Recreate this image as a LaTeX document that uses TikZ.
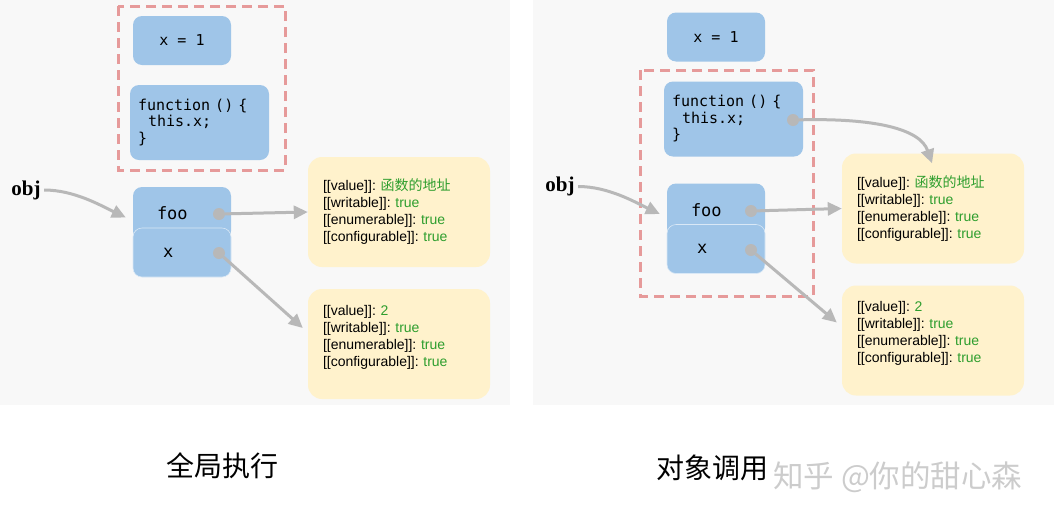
\documentclass[tikz,border=0pt]{standalone}
\usepackage{fontspec}
\setmainfont{Liberation Sans}
\setmonofont{DejaVu Sans Mono}
\newfontfamily\cjk{Noto Sans CJK SC}
\newfontfamily\objfont{Liberation Serif}
\usetikzlibrary{arrows.meta,positioning}

\definecolor{cellblue}{HTML}{9FC5E8}
\definecolor{attryellow}{HTML}{FFF2CC}
\definecolor{scopered}{HTML}{E69A9A}
\definecolor{linkgray}{HTML}{B8B8B8}
\definecolor{valgreen}{HTML}{2E9E2E}
\definecolor{panelgray}{HTML}{F8F8F8}

\newcommand{\val}[1]{\textcolor{valgreen}{#1}}
\frenchspacing

\begin{document}
\begin{tikzpicture}[x=1pt,y=-1pt,
  cell/.style={fill=cellblue,rounded corners=9pt,inner sep=0pt,font=\ttfamily\fontsize{15}{16.5}\selectfont},
  member/.style={cell,minimum width=98pt,align=left,font=\ttfamily\fontsize{17}{20}\selectfont},
  attr/.style={fill=attryellow,rounded corners=14pt,minimum width=182pt,minimum height=110pt,text width=152pt,inner xsep=15pt,align=left,font=\fontsize{14}{17}\selectfont},
  scopebox/.style={draw=scopered,line width=3pt,dash pattern=on 10pt off 6pt},
  link/.style={draw=linkgray,line width=3pt,-{Triangle[length=14pt,width=13pt]}},
  dot/.style={circle,fill=linkgray,inner sep=0pt,minimum size=12pt},
  objlabel/.style={font=\objfont\bfseries\fontsize{21}{23}\selectfont},
  caption/.style={font=\cjk\fontsize{28}{30}\selectfont}]
\useasboundingbox (0,0) rectangle (1054,520);
\fill[panelgray] (0,0) rectangle (510,405);
\fill[panelgray] (533,0) rectangle (1054,405);

% global call
\draw[scopebox] (118,6) rectangle (285,170);
\node[cell,minimum width=98pt,minimum height=49pt] (xone) at (182,40.5) {x = 1};
\node[cell,minimum width=137pt,minimum height=75pt,text width=123pt,inner xsep=8pt,align=left] (fn) at (199.5,122.5) {function () \{\\\ \ this.x;\\\}};
\node[member,minimum height=53pt,text width=50pt,inner xsep=24pt] (foo) at (182,213.5) {foo};
\node[member,minimum height=49pt,text width=38pt,inner xsep=30pt,draw=white!60!cellblue,line width=0.6pt] (xkey) at (182,252.5) {x};
\node[objlabel] (obj) at (26,190) {obj};
\node[attr] (attr1) at (399,212) {{[[}value]]: \val{\cjk 函数的地址}\\{[[}writable]]: \val{true}\\{[[}enumerable]]: \val{true}\\{[[}configurable]]: \val{true}};
\node[attr] (attr2) at (399,344) {{[[}value]]: \val{2}\\{[[}writable]]: \val{true}\\{[[}enumerable]]: \val{true}\\{[[}configurable]]: \val{true}\\\mbox{}};
\node[dot] (foodot) at (219,214) {};
\node[dot] (xdot) at (219,253) {};
\draw[link] (obj.east) .. controls +(30,0) and +(-25,-12) .. ([shift={(-7,4)}]foo.west);
\draw[link] (foodot) -- (attr1.west);
\draw[link] (xdot) -- ([shift={(-5,-16)}]attr2.west);
\node[caption] (cap1) at (222,466) {全局执行};

% object call
\draw[scopebox] (640,70) rectangle (813,296);
\begin{scope}[shift={(534,-3.5)}]
\node[cell,minimum width=98pt,minimum height=49pt] (rxone) at (182,40.5) {x = 1};
\node[cell,minimum width=137pt,minimum height=75pt,text width=123pt,inner xsep=8pt,align=left] (rfn) at (199.5,122.5) {function () \{\\\ \ this.x;\\\}};
\node[member,minimum height=53pt,text width=50pt,inner xsep=24pt] (rfoo) at (182,213.5) {foo};
\node[member,minimum height=49pt,text width=38pt,inner xsep=30pt,draw=white!60!cellblue,line width=0.6pt] (rxkey) at (182,252.5) {x};
\node[objlabel] (robj) at (26,190) {obj};
\node[attr] (rattr1) at (399,212) {{[[}value]]: \val{\cjk 函数的地址}\\{[[}writable]]: \val{true}\\{[[}enumerable]]: \val{true}\\{[[}configurable]]: \val{true}};
\node[attr] (rattr2) at (399,344) {{[[}value]]: \val{2}\\{[[}writable]]: \val{true}\\{[[}enumerable]]: \val{true}\\{[[}configurable]]: \val{true}\\\mbox{}};
\node[dot] (rfndot) at (259,123.5) {};
\node[dot] (rfoodot) at (217,214.5) {};
\node[dot] (rxdot) at (217,253.5) {};
\draw[link] (robj.east) .. controls +(30,0) and +(-25,-12) .. ([shift={(-7,4)}]rfoo.west);
\draw[link] (rfndot) .. controls +(80,-2) and +(-12,-35) .. ([shift={(-1,10)}]rattr1.north);
\draw[link] (rfoodot) -- (rattr1.west);
\draw[link] (rxdot) -- ([shift={(-5,-18)}]rattr2.west);
\end{scope}
\node[caption] (cap2) at (712,468) {对象调用};
\node[font=\cjk\fontsize{30.5}{32}\selectfont,text=black!20,anchor=west,inner sep=0pt] (mark) at (773,477) {知乎 @你的甜心森};
\end{tikzpicture}
\end{document}
